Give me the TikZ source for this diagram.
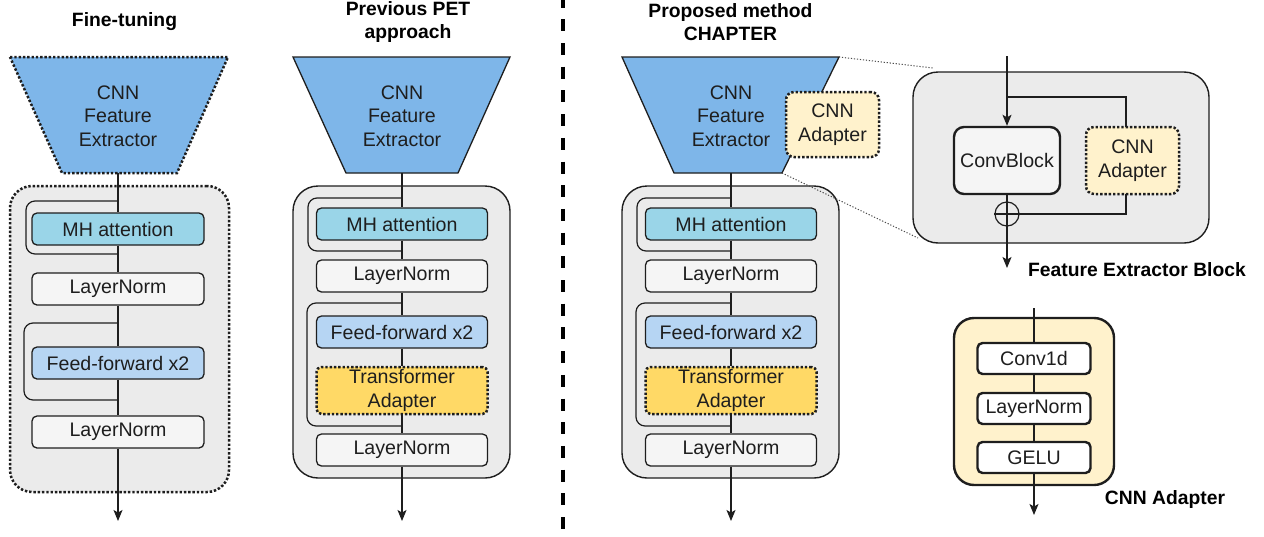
\documentclass[tikz,border=0pt]{standalone}
\usepackage{fontspec}
\setmainfont{Liberation Sans}
\usetikzlibrary{arrows.meta}
\definecolor{trapc}{HTML}{7EB6E9}
\definecolor{mhc}{HTML}{9AD5E8}
\definecolor{ffc}{HTML}{B6D5F3}
\definecolor{lnc}{HTML}{F5F5F5}
\definecolor{outc}{HTML}{EBEBEB}
\definecolor{tac}{HTML}{FFD966}
\definecolor{cac}{HTML}{FFF2CC}
\definecolor{bord}{HTML}{1E1E1E}
\definecolor{txt}{HTML}{1E1E1E}
\tikzset{
  every node/.style={font=\fontsize{19.6}{23.5}\selectfont, text=txt},
  box/.style={draw=bord, line width=1.3pt, rounded corners=5pt, minimum width=172pt, minimum height=32pt, inner sep=0pt, align=center},
  dotbord/.style={line width=2.5pt, dash pattern=on 2.4pt off 1.9pt},
  mhbox/.style={box, fill=mhc},
  lnbox/.style={box, fill=lnc},
  ffbox/.style={box, fill=ffc},
  tabox/.style={box, fill=tac, dotbord, minimum height=47pt},
  outer/.style={draw=bord, fill=outc, line width=1.4pt, rounded corners=22pt, inner sep=0pt},
  plain/.style={align=center, inner sep=0pt},
  conn/.style={draw=bord, line width=1.2pt},
  arr/.style={conn, -{Stealth[length=11pt,width=9pt,inset=2.5pt]}},
  loop/.style={conn, rounded corners=9pt},
  title/.style={font=\bfseries\fontsize{19.3}{23}\selectfont, text=black, align=center, inner sep=0pt},
  zoomline/.style={draw=bord!80, line width=1pt, dash pattern=on 1.2pt off 1.8pt}
}
\begin{document}
\begin{tikzpicture}[x=1pt,y=-1pt]
\useasboundingbox (0,0) rectangle (1264,536);

% ---------- titles ----------
\node[title] (t1) at (124.5,22) {Fine-tuning};
\node[title] (t2) at (408,22) {Previous PET\\approach};
\node[title] (t3) at (730.5,22) {Proposed method\\CHAPTER};

% ---------- separator ----------
\draw[line width=4pt, dash pattern=on 12pt off 11.7pt, black] (563,-4.4) -- (563,531);

% ================= Column 1: Fine-tuning =================
\node[outer, dotbord, minimum width=219pt, minimum height=306pt] (o1) at (119.5,339) {};
\draw[draw=bord, fill=trapc, dotbord] (10,57) -- (228,57) -- (177,173) -- (62,173) -- cycle;
\node[plain] (fe1) at (118,116) {CNN\\Feature\\Extractor};
\coordinate (fe1b) at (118,173);
\node[mhbox] (mh1) at (118,229) {MH attention};
\node[lnbox] (lna1) at (118,289) {LayerNorm};
\node[ffbox] (ff1) at (118,363) {Feed-forward x2};
\node[lnbox] (lnb1) at (118,432) {LayerNorm};
\coordinate (end1) at (118,521);
\draw[conn] (fe1b) -- (mh1);
\draw[conn] (mh1) -- (lna1);
\draw[conn] (lna1) -- (ff1);
\draw[conn] (ff1) -- (lnb1);
\draw[arr] (lnb1) -- (end1);
\coordinate (a1s) at (118,201); \coordinate (a1e) at (118,254);
\draw[loop] (a1s) -- (26,201) -- (26,254) -- (a1e);
\coordinate (b1s) at (118,323); \coordinate (b1e) at (118,400);
\draw[loop] (b1s) -- (24,323) -- (24,400) -- (b1e);

% ================= Column 2: Previous PET =================
\node[outer, rounded corners=25pt, minimum width=217pt, minimum height=292pt] (o2) at (401.5,332) {};
\draw[draw=bord, fill=trapc, line width=1.3pt] (293,57) -- (510,57) -- (458,173) -- (346,173) -- cycle;
\node[plain] (fe2) at (402,116) {CNN\\Feature\\Extractor};
\coordinate (fe2b) at (402,173);
\node[mhbox, minimum width=171pt] (mh2) at (402,224) {MH attention};
\node[lnbox, minimum width=171pt] (lna2) at (402,276) {LayerNorm};
\node[ffbox, minimum width=171pt] (ff2) at (402,332) {Feed-forward x2};
\node[tabox, minimum width=171pt] (ta2) at (402,390.5) {Transformer\\Adapter};
\node[lnbox, minimum width=171pt] (lnb2) at (402,450) {LayerNorm};
\coordinate (end2) at (402,521);
\draw[conn] (fe2b) -- (mh2);
\draw[conn] (mh2) -- (lna2);
\draw[conn] (lna2) -- (ff2);
\draw[conn] (ff2) -- (ta2);
\draw[conn] (ta2) -- (lnb2);
\draw[arr] (lnb2) -- (end2);
\coordinate (a2s) at (402,198); \coordinate (a2e) at (402,251);
\draw[loop] (a2s) -- (308,198) -- (308,251) -- (a2e);
\coordinate (b2s) at (402,303); \coordinate (b2e) at (402,426);
\draw[loop] (b2s) -- (307,303) -- (307,426) -- (b2e);

% ================= Column 3: Proposed =================
\node[outer, rounded corners=25pt, minimum width=217pt, minimum height=292pt] (o3) at (730.5,332) {};
\draw[draw=bord, fill=trapc, line width=1.3pt] (622,57) -- (839,57) -- (782,173) -- (674,173) -- cycle;
\node[plain] (fe3) at (731,116) {CNN\\Feature\\Extractor};
\node[box, fill=cac, dotbord, rounded corners=8pt, minimum width=93pt, minimum height=65pt] (cad0) at (832.5,124.5) {CNN\\Adapter};
\coordinate (fe3b) at (731,173);
\node[mhbox, minimum width=171pt] (mh3) at (731,224) {MH attention};
\node[lnbox, minimum width=171pt] (lna3) at (731,276) {LayerNorm};
\node[ffbox, minimum width=171pt] (ff3) at (731,332) {Feed-forward x2};
\node[tabox, minimum width=171pt] (ta3) at (731,390.5) {Transformer\\Adapter};
\node[lnbox, minimum width=171pt] (lnb3) at (731,450) {LayerNorm};
\coordinate (end3) at (731,521);
\draw[conn] (fe3b) -- (mh3);
\draw[conn] (mh3) -- (lna3);
\draw[conn] (lna3) -- (ff3);
\draw[conn] (ff3) -- (ta3);
\draw[conn] (ta3) -- (lnb3);
\draw[arr] (lnb3) -- (end3);
\coordinate (a3s) at (731,198); \coordinate (a3e) at (731,251);
\draw[loop] (a3s) -- (637,198) -- (637,251) -- (a3e);
\coordinate (b3s) at (731,303); \coordinate (b3e) at (731,426);
\draw[loop] (b3s) -- (636,303) -- (636,426) -- (b3e);

% ================= Feature Extractor Block =================
\node[outer, rounded corners=25pt, minimum width=296pt, minimum height=171pt] (feb) at (1061,157.5) {};
\node[box, fill=lnc, line width=2.4pt, rounded corners=10pt, minimum width=106pt, minimum height=67pt] (conv) at (1007,160.5) {ConvBlock};
\node[box, fill=cac, dotbord, rounded corners=8pt, minimum width=93pt, minimum height=67pt] (cad) at (1132.5,160.5) {CNN\\Adapter};
\node[circle, draw=bord, line width=1.2pt, minimum size=24pt, inner sep=0pt] (plus) at (1007,214) {};
\coordinate (fin) at (1007,56);
\coordinate (fbr) at (1007,97);
\coordinate (cadt) at (1126,127);
\coordinate (cadb) at (1126,194);
\coordinate (fout) at (1007,268);
\draw[arr] (fin) -- (conv);
\draw[conn] (fbr) -| (cadt);
\draw[conn] (cadb) |- (plus);
\draw[conn] (conv) -- (plus);
\draw[conn] (plus.north) -- (plus.south) (plus.west) -- (plus.east);
\draw[arr] (plus) -- (fout);
\node[title] (t4) at (1137,270) {Feature Extractor Block};

% zoom lines
\coordinate (zu1) at (839,57); \coordinate (zu2) at (933,68);
\coordinate (zl1) at (782,173); \coordinate (zl2) at (918,238);
\draw[zoomline] (zu1) -- (zu2);
\draw[zoomline] (zl1) -- (zl2);

% ================= CNN Adapter detail =================
\node[outer, fill=cac, line width=2.4pt, rounded corners=20pt, minimum width=160pt, minimum height=167pt] (cnnad) at (1034,401.5) {};
\node[box, fill=white, line width=2.4pt, minimum width=113pt, minimum height=31pt] (c1d) at (1034,358.5) {Conv1d};
\node[box, fill=white, line width=2.4pt, minimum width=113pt, minimum height=31pt] (cln) at (1034,408.5) {LayerNorm};
\node[box, fill=white, line width=2.4pt, minimum width=113pt, minimum height=31pt] (gelu) at (1034,457.5) {GELU};
\coordinate (cin) at (1034,308);
\coordinate (cout) at (1034,515);
\draw[conn] (cin) -- (c1d);
\draw[conn] (c1d) -- (cln);
\draw[conn] (cln) -- (gelu);
\draw[arr] (gelu) -- (cout);
\node[title] (t5) at (1165,500) {CNN Adapter};
\end{tikzpicture}
\end{document}
